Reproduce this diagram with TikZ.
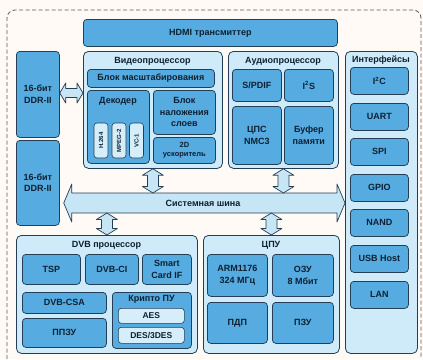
\documentclass[tikz,border=0pt]{standalone}
\usepackage{fontspec}
\setmainfont{Liberation Sans}
\usetikzlibrary{calc}
\definecolor{contfill}{HTML}{CFEAF8}
\definecolor{edge}{HTML}{243F55}
\definecolor{blkfill}{HTML}{56ACE0}
\definecolor{pillfill}{HTML}{D6EEFA}
\definecolor{arrfill}{HTML}{C6E5F5}
\definecolor{txt}{HTML}{0E2032}
\definecolor{bg}{HTML}{FFFAF5}
\definecolor{dashc}{HTML}{5A5A5A}
\newcommand\bx[7][]{\node[#1, minimum width={#5-#3}, minimum height={#6-#4}, anchor=north west] (#2) at (#3,#4) {#7};}
\newcommand\vdarrow[2]{\path[barrow] let \p1=#1, \p2=#2 in
  (\x1,\y1) -- (\x1+10.5pt,\y1-6.5pt) -- (\x1+5.5pt,\y1-6.5pt) -- (\x1+5.5pt,\y2+6.5pt) -- (\x1+10.5pt,\y2+6.5pt) -- (\x1,\y2)
  -- (\x1-10.5pt,\y2+6.5pt) -- (\x1-5.5pt,\y2+6.5pt) -- (\x1-5.5pt,\y1-6.5pt) -- (\x1-10.5pt,\y1-6.5pt) -- cycle;}
\newcommand\hdarrow[5]{\path[barrow] let \p1=#1, \p2=#2 in
  (\x1,\y1) -- (\x1+#5,\y1+#4) -- (\x1+#5,\y1+#3) -- (\x2-#5,\y1+#3) -- (\x2-#5,\y1+#4) -- (\x2,\y1)
  -- (\x2-#5,\y1-#4) -- (\x2-#5,\y1-#3) -- (\x1+#5,\y1-#3) -- (\x1+#5,\y1-#4) -- cycle;}
\tikzset{
  cont/.style={draw=edge, fill=contfill, rounded corners=5pt, line width=0.8pt},
  blk/.style={draw=edge, fill=blkfill, rounded corners=3.5pt, line width=0.75pt, align=center,
    font=\bfseries\fontsize{9}{11.5}\selectfont, text=txt, inner sep=1pt},
  pill/.style={draw=edge, fill=pillfill, rounded corners=3pt, line width=0.6pt, align=center,
    font=\bfseries\fontsize{8.5}{10}\selectfont, text=txt, inner sep=0.5pt},
  vpill/.style={pill, rotate=90, minimum width=35, minimum height=14, font=\bfseries\fontsize{6}{6.5}\selectfont},
  ttl/.style={font=\bfseries\fontsize{9}{11}\selectfont, text=txt, inner sep=0pt},
  barrow/.style={draw=edge, fill=arrfill, line width=0.7pt, line join=round},
}
\begin{document}
\begin{tikzpicture}[x=1pt, y=-1pt]
\fill[bg] (0,0) rectangle (423,359);
\useasboundingbox (0,0) rectangle (423,359);
\draw[dashc, line width=0.8pt, dash pattern=on 4pt off 2.5pt, rounded corners=8pt]
  (7,359) -- (7,10) -- (421,10) -- (421,359);

% containers
\bx[cont]{video}{83}{51}{222}{168}{}
\bx[cont]{audio}{228}{51}{338}{168}{}
\bx[cont]{intf}{345}{51}{417}{353}{}
\bx[cont]{dvb}{16}{235}{197}{353}{}
\bx[cont]{cpu}{203}{235}{339}{353}{}
\node[ttl] (tvideo) at (152.5,61) {Видеопроцессор};
\node[ttl] (taudio) at (283,61) {Аудиопроцессор};
\node[ttl] (tintf) at (381,60) {Интерфейсы};
\node[ttl] (tdvb) at (106.5,245) {DVB процессор};
\node[ttl] (tcpu) at (271,245) {ЦПУ};

% top blocks
\bx[blk]{hdmi}{83}{19}{337}{46}{HDMI трансмиттер}
\bx[blk]{ddra}{16}{51}{59}{137}{16-бит\\DDR-II}
\bx[blk]{ddrb}{16}{140}{59}{225}{16-бит\\DDR-II}

% video
\bx[blk]{scale}{87}{69}{214}{87}{Блок масштабирования}
\bx[blk]{dec}{87}{90}{149}{163}{}
\node[ttl] (tdec) at (118,101) {Декодер};
\bx[blk]{overlay}{153}{90}{215}{134}{Блок\\наложения\\слоев}
\bx[blk, font=\bfseries\fontsize{7.5}{9.5}\selectfont]{acc}{153}{137}{215}{163}{2D\\ускоритель}
\node[vpill] (h264) at (101,140.5) {H.264};
\node[vpill] (mpeg) at (119,140.5) {MPEG-2};
\node[vpill] (vc1) at (136.5,140.5) {VC-1};

% audio
\bx[blk]{spdif}{232}{69}{281}{101}{S/PDIF}
\bx[blk]{i2s}{284}{69}{333}{101}{I\textsuperscript{2}S}
\bx[blk]{dsp}{232}{106}{281}{164}{ЦПС\\NMC3}
\bx[blk]{buf}{284}{106}{333}{164}{Буфер\\памяти}

% interfaces
\bx[blk]{i2c}{350}{67}{408}{94}{I\textsuperscript{2}C}
\bx[blk]{uart}{350}{103}{408}{130}{UART}
\bx[blk]{spi}{350}{138}{408}{165}{SPI}
\bx[blk]{gpio}{350}{174}{408}{201}{GPIO}
\bx[blk]{nand}{350}{209}{408}{236}{NAND}
\bx[blk]{usb}{350}{245}{408}{272}{USB Host}
\bx[blk]{lan}{350}{281}{408}{308}{LAN}

% DVB
\bx[blk]{tsp}{22}{254}{80}{284}{TSP}
\bx[blk]{dvbci}{85}{254}{138}{284}{DVB-CI}
\bx[blk]{smart}{142}{254}{191}{284}{Smart\\Card IF}
\bx[blk]{csa}{22}{292}{106}{313}{DVB-CSA}
\bx[blk]{ppzu}{22}{318}{106}{347}{ППЗУ}
\bx[blk]{crypto}{112}{292}{191}{348}{}
\node[ttl] (tcrypto) at (151.5,299) {Крипто ПУ};
\bx[pill]{aes}{118}{308}{184}{323}{AES}
\bx[pill]{des}{118}{327}{184}{343}{DES/3DES}

% CPU
\bx[blk]{arm}{207}{254}{267}{296}{ARM1176\\324 МГц}
\bx[blk]{ozu}{272}{254}{333}{296}{ОЗУ\\8 Мбит}
\bx[blk]{pdp}{207}{302}{267}{343}{ПДП}
\bx[blk]{pzu}{272}{302}{333}{343}{ПЗУ}

% connectors
\coordinate (ddry) at (0,93);
\coordinate (bustop) at (0,193);
\coordinate (busbot) at (0,213);
\coordinate (busy) at (0,203);
\coordinate (busL) at ($(ddrb.east |- busy)+(4,0)$);
\coordinate (busR) at (intf.west |- busy);
\hdarrow{(ddra.east |- ddry)}{(video.west |- ddry)}{4.5pt}{10pt}{6pt}
\hdarrow{(busL)}{(busR)}{10pt}{19pt}{8pt}
\node[ttl] (buslbl) at (203,203) {Системная шина};
\vdarrow{(video.south)}{(video.south |- bustop)}
\vdarrow{(audio.south)}{(audio.south |- bustop)}
\vdarrow{(dvb.north |- busbot)}{(dvb.north)}
\vdarrow{(cpu.north |- busbot)}{(cpu.north)}
\end{tikzpicture}
\end{document}
